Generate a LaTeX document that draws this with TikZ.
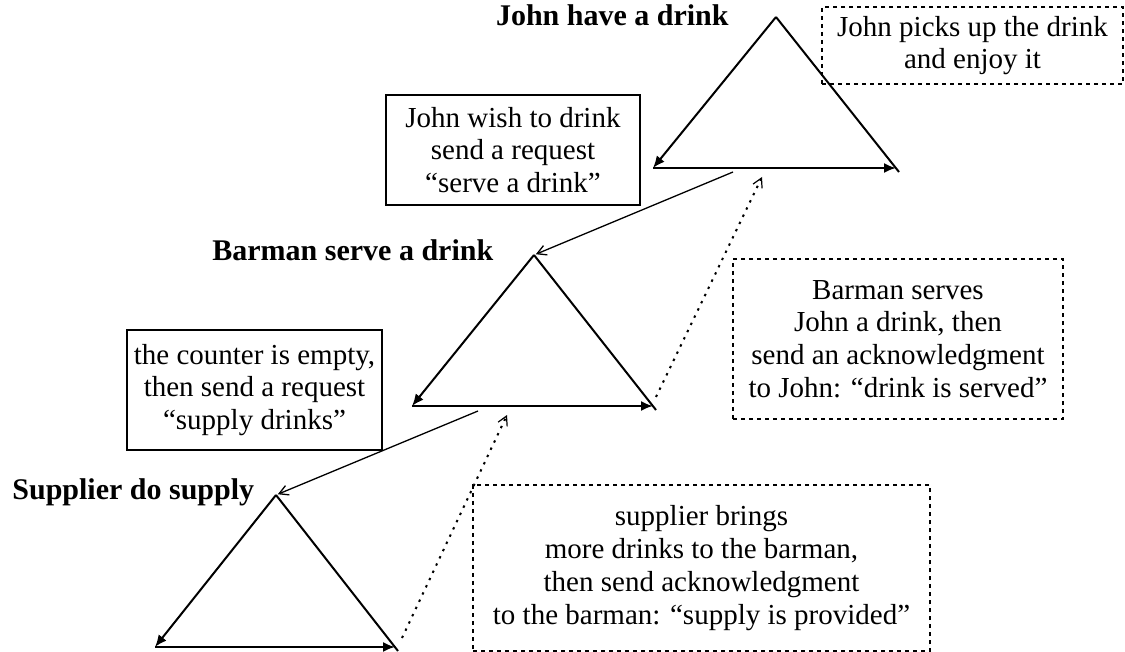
\documentclass[tikz,border=0pt]{standalone}
\usepackage{fontspec}
\setmainfont{Liberation Serif}
\usetikzlibrary{arrows.meta}
\begin{document}
\begin{tikzpicture}[x=0.5pt,y=-0.5pt,
  side/.style={line width=1pt,-{Latex[length=6pt,width=5pt]}},
  msg/.style={line width=0.65pt,-{Straight Barb[length=4.5pt,width=5pt]}},
  ack/.style={line width=1pt,dash pattern=on 1.2pt off 2.8pt,-{Straight Barb[length=4.5pt,width=5pt,line width=0.6pt]}},
  note/.style={draw,line width=0.7pt,align=center,inner sep=0pt,font=\fontsize{14.5}{16.4}\selectfont},
  reply/.style={note,line width=0.9pt,dash pattern=on 2pt off 2pt},
  title/.style={font=\fontsize{15}{17}\selectfont\bfseries,inner sep=0pt}]
\useasboundingbox (0,0) rectangle (1125,652);

% John
\coordinate (jA) at (776,17);
\coordinate (jL) at (653,168);
\coordinate (jB) at (896,168);
\coordinate (jR) at (899,172);
\draw[side] (jA) -- (jL);
\draw[side] (jL) -- (jB);
\draw[line width=1pt] (jA) -- (jR);
\node[title,anchor=base east] (jT) at (729,26) {John have a drink};

% Barman
\coordinate (bA) at (534,255);
\coordinate (bL) at (412,406);
\coordinate (bB) at (653,406);
\coordinate (bR) at (656,410);
\draw[side] (bA) -- (bL);
\draw[side] (bL) -- (bB);
\draw[line width=1pt] (bA) -- (bR);
\node[title,anchor=base west] (bT) at (212,261) {Barman serve a drink};

% Supplier
\coordinate (sA) at (276,495);
\coordinate (sL) at (155,647);
\coordinate (sB) at (395,647);
\coordinate (sR) at (398,651);
\draw[side] (sA) -- (sL);
\draw[side] (sL) -- (sB);
\draw[line width=1pt] (sA) -- (sR);
\node[title,anchor=base west] (sT) at (12,499) {Supplier do supply};

% notes
\node[reply,minimum width=150.5pt,minimum height=38.5pt] (pick) at (972.5,45.5)
  {John picks up the drink\\and enjoy it};
\node[note,minimum width=127pt,minimum height=55pt] (wish) at (513,150)
  {John wish to drink\\send a request\\“serve a drink”};
\node[reply,minimum width=165pt,minimum height=80pt] (serves) at (898,339)
  {Barman serves\\John a drink, then\\send an acknowledgment\\to John: “drink is served”};
\node[note,minimum width=127.5pt,minimum height=60pt] (empty) at (254.5,390)
  {the counter is empty,\\then send a request\\“supply drinks”};
\node[reply,minimum width=228.5pt,minimum height=83pt] (brings) at (701.5,568)
  {supplier brings\\more drinks to the barman,\\then send acknowledgment\\to the barman: “supply is provided”};

% requests and acknowledgments
\coordinate (jOut) at (733,172);
\coordinate (jIn) at (762,177);
\coordinate (bOut) at (478,411);
\coordinate (bIn) at (507,415);
\coordinate (bAck) at (656,397);
\coordinate (sAck) at (402,638);
\draw[msg,shorten >=1pt] (jOut) -- (bA);
\draw[msg,shorten >=1pt] (bOut) -- (sA);
\draw[ack] (bAck) -- (jIn);
\draw[ack] (sAck) -- (bIn);

\end{tikzpicture}
\end{document}
